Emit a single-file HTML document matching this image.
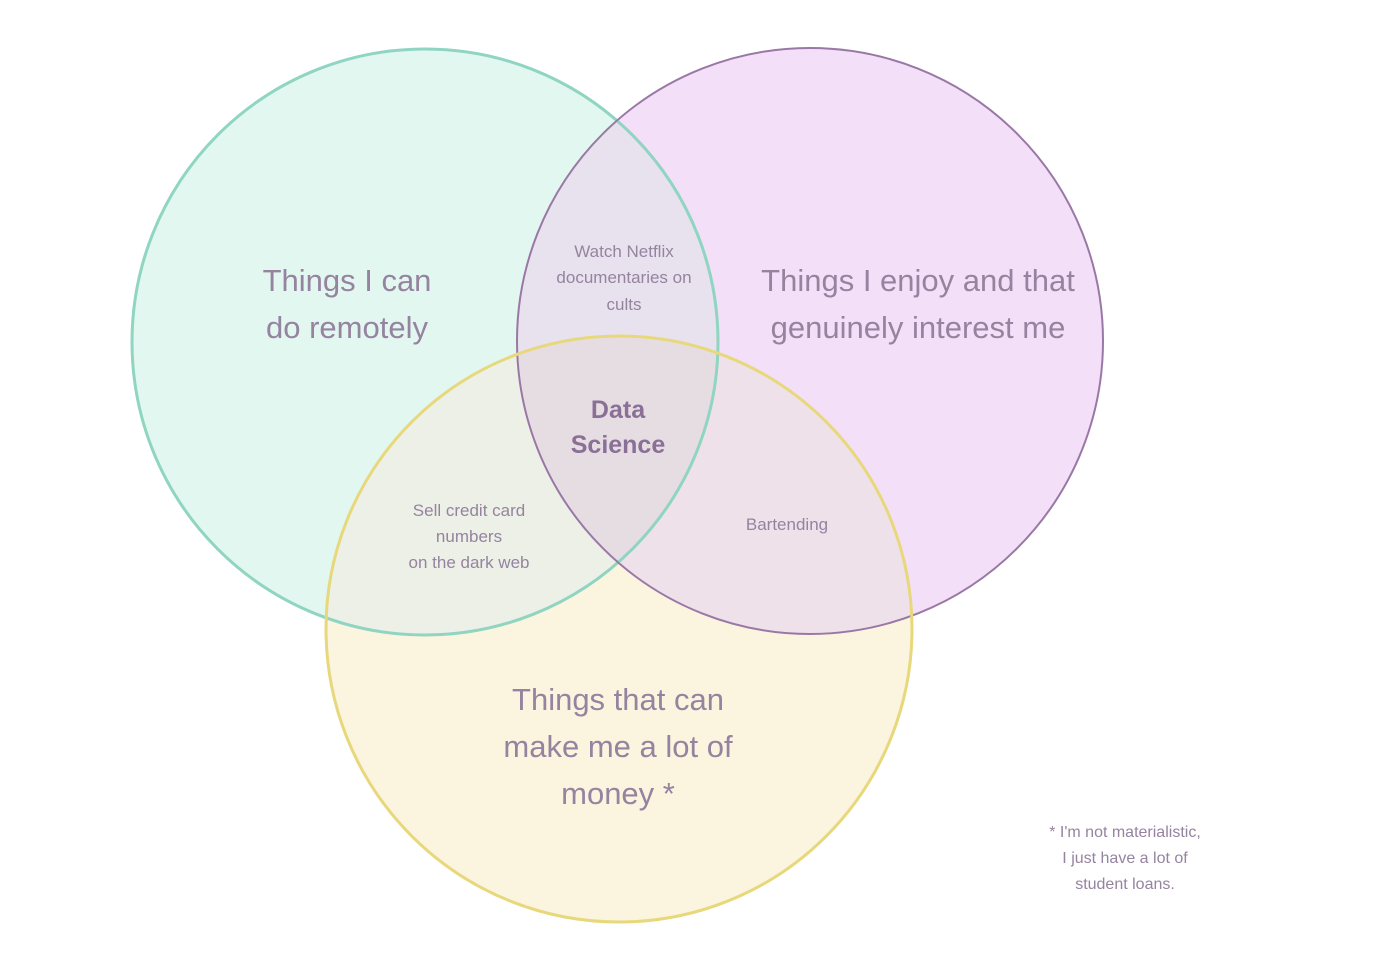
<!DOCTYPE html>
<html><head><style>
body{margin:0;background:#fff;width:1400px;height:968px;overflow:hidden}
svg text{font-family:"Liberation Sans",sans-serif;fill:#9583a0}
</style></head><body>
<svg width="1400" height="968" viewBox="0 0 1400 968">
<defs>
<clipPath id="cg"><circle cx="425" cy="342" r="293"/></clipPath>
<clipPath id="cp"><circle cx="810" cy="341" r="293"/></clipPath>
<clipPath id="cy"><circle cx="619" cy="629" r="293"/></clipPath>
</defs>
<circle cx="425" cy="342" r="293" fill="#e2f7ef"/>
<circle cx="810" cy="341" r="293" fill="#f3dff8"/>
<circle cx="619" cy="629" r="293" fill="#fbf4de"/>
<g clip-path="url(#cg)"><circle cx="810" cy="341" r="293" fill="#e8e2ee"/></g>
<g clip-path="url(#cg)"><circle cx="619" cy="629" r="293" fill="#edf0e6"/></g>
<g clip-path="url(#cp)"><circle cx="619" cy="629" r="293" fill="#efe1ea"/></g>
<g clip-path="url(#cg)"><g clip-path="url(#cp)"><circle cx="619" cy="629" r="293" fill="#e6dde3"/></g></g>
<circle cx="425" cy="342" r="293" fill="none" stroke="#8fd5c2" stroke-width="3"/>
<circle cx="810" cy="341" r="293" fill="none" stroke="#9a78a6" stroke-width="2"/>
<circle cx="619" cy="629" r="293" fill="none" stroke="#e8d87c" stroke-width="3"/>
<g text-anchor="middle">
<text x="347" y="291" font-size="31">Things I can</text>
<text x="347" y="338" font-size="31">do remotely</text>
<text x="918" y="291" font-size="31">Things I enjoy and that</text>
<text x="918" y="338" font-size="31">genuinely interest me</text>
<text x="618" y="710" font-size="31">Things that can</text>
<text x="618" y="757" font-size="31">make me a lot of</text>
<text x="618" y="804" font-size="31">money *</text>
<text x="624" y="257" font-size="17">Watch Netflix</text>
<text x="624" y="283" font-size="17">documentaries on</text>
<text x="624" y="310" font-size="17">cults</text>
<text x="469" y="516" font-size="17">Sell credit card</text>
<text x="469" y="542" font-size="17">numbers</text>
<text x="469" y="568" font-size="17">on the dark web</text>
<text x="787" y="530" font-size="17">Bartending</text>
<text x="618" y="418" font-size="25" font-weight="bold" style="fill:#8a6f96">Data</text>
<text x="618" y="453" font-size="25" font-weight="bold" style="fill:#8a6f96">Science</text>
<text x="1125" y="837" font-size="16">* I'm not materialistic,</text>
<text x="1125" y="863" font-size="16">I just have a lot of</text>
<text x="1125" y="889" font-size="16">student loans.</text>
</g>
</svg>
</body></html>
